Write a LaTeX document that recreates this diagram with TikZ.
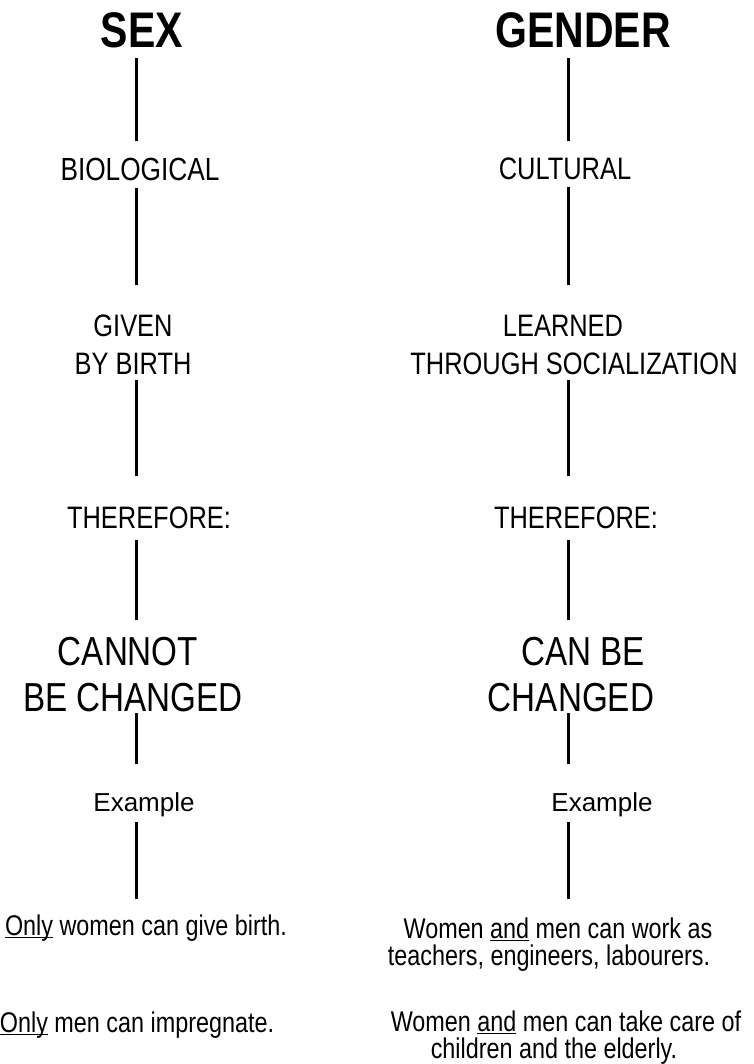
\documentclass[tikz,border=0pt]{standalone}
\usepackage{fontspec}
\setmainfont{Liberation Sans}
\newfontfamily\narrowfont[FakeStretch=0.82]{Liberation Sans}
\newcommand{\undl}[1]{\setbox0\hbox{#1}\rlap{\rule[-2.5pt]{\wd0}{1.4pt}}#1}
\tikzstyle{head}=[inner sep=0pt, anchor=north, font=\narrowfont\bfseries\fontsize{50}{55}\selectfont]
\tikzstyle{lab}=[inner sep=0pt, anchor=north, align=center, font=\narrowfont\fontsize{31}{38}\selectfont]
\tikzstyle{big}=[inner sep=0pt, anchor=north, align=center, font=\narrowfont\fontsize{40.5}{46}\selectfont]
\tikzstyle{ex}=[inner sep=0pt, anchor=north, font=\fontsize{26}{30}\selectfont]
\tikzstyle{note}=[inner sep=0pt, anchor=north, align=center, font=\narrowfont\fontsize{28.5}{27}\selectfont]
\tikzstyle{link}=[line width=3pt]

\begin{document}
\begin{tikzpicture}[x=1pt, y=-1pt]
	\useasboundingbox (0,0) rectangle (753,1064);
	\coordinate (L) at (136,0);
	\coordinate (R) at (568,0);
	% sex column
	\draw (142,12) node[head] (sex) {SEX};
	\draw (140,158) node[lab, font=\narrowfont\fontsize{32}{38}\selectfont] (bio) {BIOLOGICAL};
	\draw (133,315) node[lab] (given) {GIVEN\\BY BIRTH};
	\draw (149,507) node[lab] (there1) {THEREFORE:};
	\draw (133,637) node[big] (cannot) {CANNOT\hspace*{10pt}\\BE CHANGED};
	\draw (144,792) node[ex] (ex1) {Example};
	\draw (146,915) node[note] (only1) {\undl{Only} women can give birth.};
	\draw (137,1012) node[note] (only2) {\undl{Only} men can impregnate.};
	% gender column
	\draw (583,12) node[head] (gender) {GENDER};
	\draw (565,158) node[lab] (cult) {CULTURAL};
	\draw (574,315) node[lab] (learned) {LEARNED\hspace*{22pt}\\THROUGH SOCIALIZATION};
	\draw (576,507) node[lab] (there2) {THEREFORE:};
	\draw (571,637) node[big] (canbe) {\hspace*{24pt}CAN BE\\CHANGED};
	\draw (602,792) node[ex] (ex2) {Example};
	\draw (549,918) node[note] (work) {\hspace*{18pt}Women \undl{and} men can work as\\teachers, engineers, labourers.};
	\draw (566,1011) node[note] (care) {Women \undl{and} men can take care of\\children and the elderly.\hspace*{24pt}};
	% links
	\draw[link, shorten <=10pt, shorten >=17pt] (sex.south -| L) -- (bio.north -| L);
	\draw[link, shorten <=7pt, shorten >=30pt] (bio.south -| L) -- (given.north -| L);
	\draw[link, shorten <=5pt, shorten >=31pt] (given.south -| L) -- (there1.north -| L);
	\draw[link, shorten <=11pt, shorten >=17pt] (there1.south -| L) -- (cannot.north -| L);
	\draw[link, shorten <=1pt, shorten >=28pt] (cannot.south -| L) -- (ex1.north -| L);
	\draw[link, shorten <=5pt, shorten >=16pt] (ex1.south -| L) -- (only1.north -| L);
	\draw[link, shorten <=10pt, shorten >=17pt] (gender.south -| R) -- (cult.north -| R);
	\draw[link, shorten <=7pt, shorten >=30pt] (cult.south -| R) -- (learned.north -| R);
	\draw[link, shorten <=5pt, shorten >=31pt] (learned.south -| R) -- (there2.north -| R);
	\draw[link, shorten <=11pt, shorten >=17pt] (there2.south -| R) -- (canbe.north -| R);
	\draw[link, shorten <=1pt, shorten >=28pt] (canbe.south -| R) -- (ex2.north -| R);
	\draw[link, shorten <=5pt, shorten >=19pt] (ex2.south -| R) -- (work.north -| R);
\end{tikzpicture}
\end{document}
